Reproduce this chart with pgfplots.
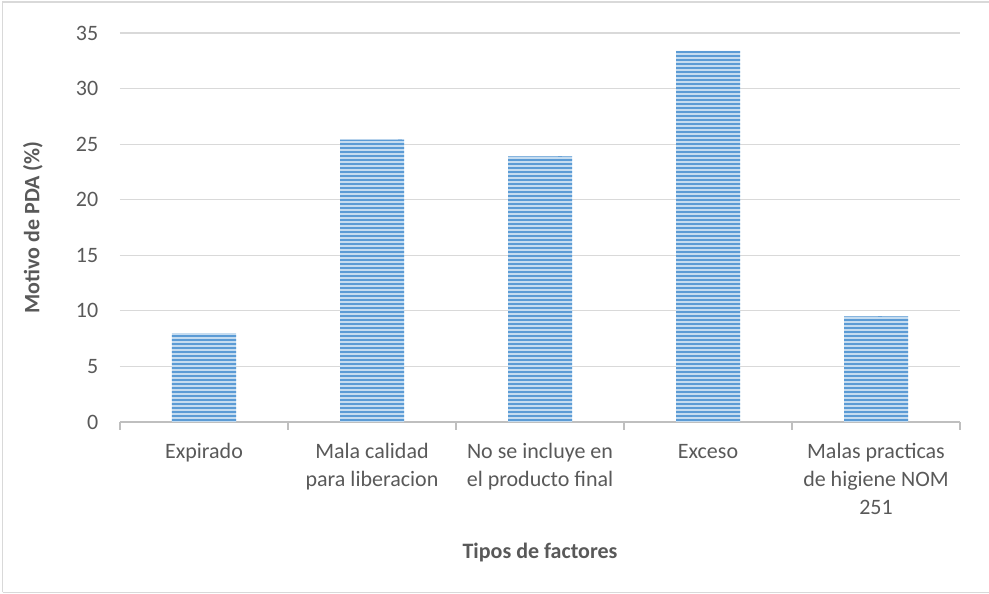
\documentclass[border=0pt]{standalone}
\usepackage{pgfplots}
\pgfplotsset{compat=1.18}
\usepackage{fontspec}
\setmainfont{Carlito}
\usetikzlibrary{patterns}
\pgfdeclarepatternformonly{hstripes}{\pgfpoint{-2pt}{0pt}}{\pgfpoint{82pt}{4pt}}{\pgfpoint{80pt}{4pt}}{%
  \pgfpathrectangle{\pgfpoint{-2pt}{0.9pt}}{\pgfpoint{84pt}{2.2pt}}\pgfusepath{fill}}
\definecolor{barblue}{HTML}{5B9BD5}
\definecolor{barlight}{HTML}{C5DCF0}
\definecolor{txt}{HTML}{595959}
\definecolor{gridc}{HTML}{D9D9D9}
\definecolor{axc}{HTML}{BFBFBF}
\begin{document}
\begin{tikzpicture}[x=1pt,y=1pt]
\useasboundingbox (0,0) rectangle (989,594);
\draw[gridc, line width=1.5pt] (2.5,1.5) -- (2.5,592) -- (995,592);
\draw[gridc, line width=1.5pt] (2.5,1.5) -- (995,1.5);
\begin{axis}[
  at={(120pt,172pt)}, anchor=south west,
  scale only axis, width=840pt, height=389pt,
  xmin=-0.5, xmax=4.5, ymin=0, ymax=35,
  ytick={0,5,...,35},
  ymajorgrids, grid style={gridc, line width=1.2pt},
  axis x line*=bottom, axis y line*=left,
  y axis line style={draw=none},
  major y tick style={draw=none},
  x axis line style={axc, line width=1.8pt},
  xtick={0,1,2,3,4},
  xticklabels={\strut Expirado, {\strut Mala calidad\\para liberacion}, {\strut No se incluye en\\el producto final}, \strut Exceso, {\strut Malas practicas\\de higiene NOM\\251}},
  major x tick style={draw=none},
  minor xtick={-0.5,0.5,1.5,2.5,3.5,4.5},
  minor x tick style={axc, line width=1.8pt},
  minor tick length=8pt,
  tick align=outside,
  xticklabel style={font=\fontsize{22}{28}\selectfont, text=txt, align=center, anchor=north, yshift=-9pt},
  yticklabel style={font=\fontsize{22}{26}\selectfont, text=txt, xshift=-14pt},
  /pgf/number format/assume math mode=true,
  ylabel={\textbf{Motivo de PDA (\%)}},
  xlabel={\textbf{Tipos de factores}},
  label style={font=\fontsize{22}{26}\selectfont, text=txt},
  ylabel style={at={(axis description cs:-0.1036,0.5)}, anchor=center},
  xlabel style={yshift=-22pt},
  clip=false,
]
\addplot[ybar, bar width=64pt, bar shift=0pt, fill=barlight, draw=none] coordinates {(0,8.0) (1,25.4) (2,23.9) (3,33.4) (4,9.5)};
\addplot[ybar, bar width=64pt, bar shift=0pt, draw=none, pattern=hstripes, pattern color=barblue] coordinates {(0,8.0) (1,25.4) (2,23.9) (3,33.4) (4,9.5)};
\end{axis}
\end{tikzpicture}
\end{document}
